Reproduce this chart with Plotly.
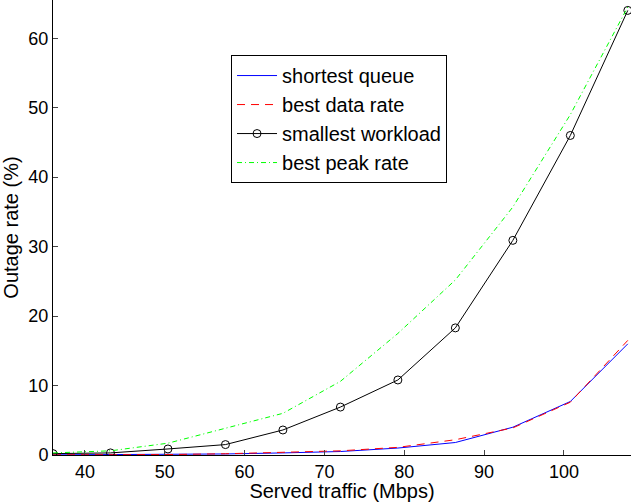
import plotly.graph_objects as go

traffic = [36, 43.2, 50.4, 57.6, 64.8, 72, 79.2, 86.4, 93.6, 100.8, 108]
shortest_queue = [0.02, 0.03, 0.05, 0.15, 0.3, 0.5, 1.0, 1.8, 4.0, 7.7, 16.0]
best_data_rate = [0.02, 0.03, 0.06, 0.18, 0.35, 0.6, 1.1, 2.2, 3.9, 7.6, 16.5]
smallest_workload = [0.2, 0.3, 0.87, 1.5, 3.6, 6.9, 10.8, 18.3, 30.9, 46.0, 64.0]
best_peak_rate = [0.3, 0.6, 1.7, 3.8, 6.0, 10.6, 17.5, 25.2, 35.7, 49.0, 64.5]

x_ticks = [40, 50, 60, 70, 80, 90, 100]
y_ticks = [0, 10, 20, 30, 40, 50, 60]

FONT = "Liberation Sans, Arial, sans-serif"

fig = go.Figure()
fig.add_trace(go.Scatter(x=traffic, y=shortest_queue, mode="lines", name="shortest queue",
                         line=dict(color="#0000ff", width=1)))
fig.add_trace(go.Scatter(x=traffic, y=best_data_rate, mode="lines", name="best data rate",
                         line=dict(color="#ff0000", width=1, dash="8px,6px")))
fig.add_trace(go.Scatter(x=traffic, y=smallest_workload, mode="lines+markers", name="smallest workload",
                         line=dict(color="#000000", width=1),
                         marker=dict(symbol="circle-open", size=8, color="#000000", line=dict(width=1))))
fig.add_trace(go.Scatter(x=traffic, y=best_peak_rate, mode="lines", name="best peak rate",
                         line=dict(color="#00ff00", width=1, dash="5px,3px,1px,3px")))

fig.update_layout(
    width=636, height=502,
    margin=dict(l=53, r=5, t=0, b=47),
    paper_bgcolor="white", plot_bgcolor="white",
    font=dict(family=FONT, size=18, color="black"),
    showlegend=True,
    legend=dict(x=0.308, y=0.879, xanchor="left", yanchor="top",
                bgcolor="white", bordercolor="black", borderwidth=1,
                font=dict(size=20), itemwidth=40, tracegroupgap=0),
    xaxis=dict(range=[36, 108.4], tickvals=x_ticks, ticks="inside", ticklen=5,
               showline=True, linecolor="black", linewidth=1, showgrid=False, zeroline=False,
               title=dict(text="Served traffic (Mbps)", font=dict(size=20), standoff=1),
               tickfont=dict(size=18)),
    yaxis=dict(range=[0, 65.5], tickvals=y_ticks, ticks="inside", ticklen=5,
               showline=True, linecolor="black", linewidth=1, showgrid=False, zeroline=False,
               title=dict(text="Outage rate (%)", font=dict(size=20), standoff=4),
               tickfont=dict(size=18)),
)

fig.write_html("out.html")
